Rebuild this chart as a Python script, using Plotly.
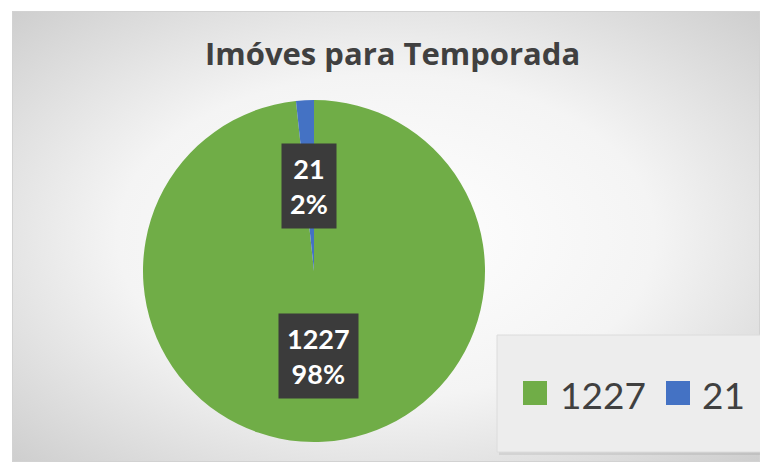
import base64
import math
import plotly.graph_objects as go

# ---- data ----
labels = ["1227", "21"]
values = [1227, 21]
colors = ["#70AD47", "#4472C4"]
chart_title = "Imóves para Temporada"

# ---- geometry (pixels) ----
W, H = 760, 462
CX, CY, R = 314, 271, 171


def px(x):
    return x / W


def py(y):
    return 1 - y / H


# background radial gradient (chart area) as an SVG image
AX0, AY0 = 12, 11
AW, AH = W - AX0, H - AY0
svg = f'''<svg xmlns="http://www.w3.org/2000/svg" width="{AW}" height="{AH}" viewBox="0 0 {AW} {AH}" preserveAspectRatio="none">
<defs><radialGradient id="g" cx="0.5" cy="0.5" r="0.8">
<stop offset="0" stop-color="#ffffff"/><stop offset="0.45" stop-color="#f4f4f4"/><stop offset="1" stop-color="#c4c4c4"/>
</radialGradient></defs>
<rect x="0.5" y="0.5" width="{AW-1}" height="{AH-1}" fill="url(#g)" stroke="#d2d2d2" stroke-width="1"/>
</svg>'''
bg_src = "data:image/svg+xml;base64," + base64.b64encode(svg.encode("utf-8")).decode("ascii")

fig = go.Figure()
fig.add_trace(go.Pie(
    labels=labels,
    values=values,
    marker=dict(colors=colors, line=dict(width=0)),
    sort=False,
    direction="clockwise",
    rotation=0,
    textinfo="none",
    hoverinfo="label+value+percent",
    showlegend=False,
    domain=dict(x=[px(CX - R), px(CX + R)], y=[py(CY + R), py(CY - R)]),
))

annotations = []
shapes = []

# data labels at half radius along each slice's mid-angle
total = sum(values)
cum = 0
for lab, v in zip(labels, values):
    mid = (cum + v / 2) / total * 2 * math.pi
    cum += v
    lx = CX + 0.5 * R * math.sin(mid)
    ly = CY - 0.5 * R * math.cos(mid)
    pct = round(v / total * 100)
    annotations.append(dict(text=f"<b>{v}</b><br><b>{pct}%</b>", bgcolor="#3b3b3b",
                            xref="paper", yref="paper", x=px(lx), y=py(ly),
                            xanchor="center", yanchor="middle", showarrow=False,
                            borderpad=8, align="center",
                            font=dict(family="Lato", size=27, color="#ffffff")))

# title
annotations.append(dict(text=f"<b>{chart_title}</b>", xref="paper", yref="paper",
                        x=px(392), y=py(53), xanchor="center", yanchor="middle",
                        showarrow=False, font=dict(family="Open Sans", size=31, color="#404040")))

# legend box
shapes.append(dict(type="rect", xref="paper", yref="paper",
                   x0=px(499), x1=px(764), y0=py(455), y1=py(337),
                   fillcolor="rgba(0,0,0,0.07)", line=dict(width=0), layer="above"))
shapes.append(dict(type="rect", xref="paper", yref="paper",
                   x0=px(497), x1=px(762), y0=py(452), y1=py(335),
                   fillcolor="#ededed", line=dict(color="#dcdcdc", width=1), layer="above"))

item_x = [523, 666]
text_x = [558, 700]
LY = 393
for lab, col, sx, tx in zip(labels, colors, item_x, text_x):
    shapes.append(dict(type="rect", xref="paper", yref="paper",
                       x0=px(sx), x1=px(sx + 24), y0=py(LY + 12), y1=py(LY - 12),
                       fillcolor=col, line=dict(width=0), layer="above"))
    annotations.append(dict(text=lab, xref="paper", yref="paper", x=px(tx), y=py(LY + 1),
                            xanchor="left", yanchor="middle", showarrow=False,
                            font=dict(family="Lato", size=37, color="#404040")))

fig.update_layout(
    width=W, height=H,
    margin=dict(l=0, r=0, t=0, b=0),
    paper_bgcolor="#ffffff",
    plot_bgcolor="rgba(0,0,0,0)",
    images=[dict(source=bg_src, xref="paper", yref="paper",
                 x=px(AX0), y=py(AY0), sizex=AW / W, sizey=AH / H,
                 xanchor="left", yanchor="top", sizing="stretch", layer="below")],
    shapes=shapes,
    annotations=annotations,
)

fig.write_html("out.html",
               config={"displayModeBar": False},
               post_script="document.body.style.margin='0';document.body.style.overflow='hidden';")
